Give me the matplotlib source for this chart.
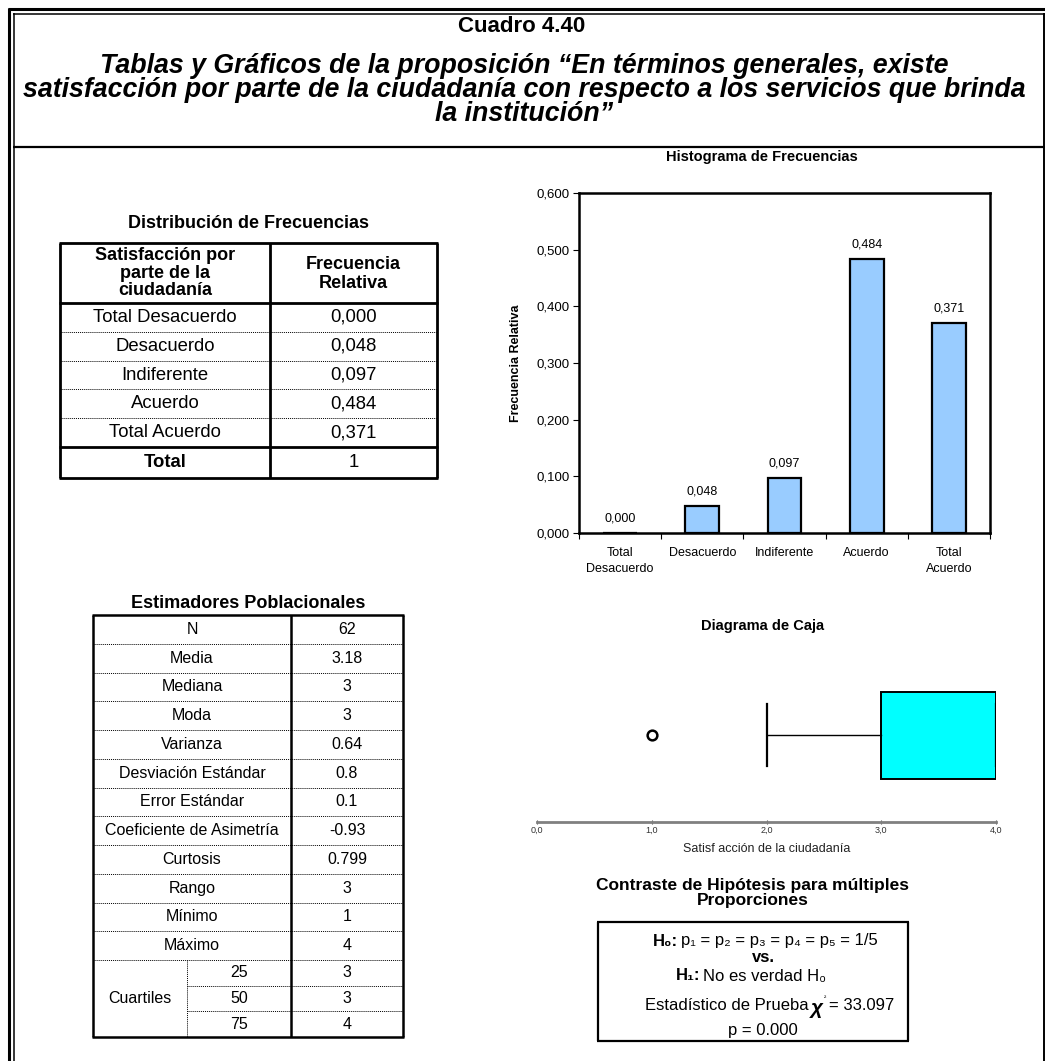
import matplotlib
matplotlib.use("Agg")
import matplotlib.pyplot as plt
from matplotlib.ticker import FuncFormatter, FixedLocator

plt.rcParams["font.family"] = ["Liberation Sans", "DejaVu Sans"]

# ---- data -------------------------------------------------------------
categories = ["Total Desacuerdo", "Desacuerdo", "Indiferente", "Acuerdo", "Total Acuerdo"]
bar_labels = ["Total\nDesacuerdo", "Desacuerdo", "Indiferente", "Acuerdo", "Total\nAcuerdo"]
rel_freq = [0.000, 0.048, 0.097, 0.484, 0.371]
freq_total = "1"

est_labels = ["N", "Media", "Mediana", "Moda", "Varianza", "Desviación Estándar",
              "Error Estándar", "Coeficiente de Asimetría", "Curtosis", "Rango",
              "Mínimo", "Máximo"]
est_values = ["62", "3.18", "3", "3", "0.64", "0.8", "0.1", "-0.93", "0.799", "3", "1", "4"]
quartile_pcts = ["25", "50", "75"]
quartile_vals = ["3", "3", "4"]

box_stats = dict(whislo=2, q1=3, med=3, q3=4, whishi=4, fliers=[1])
box_ticks = [0, 1, 2, 3, 4]

subtitle = ("Tablas y Gráficos de la proposición “En términos generales, existe\n"
            "satisfacción por parte de la ciudadanía con respecto a los servicios que brinda\n"
            "la institución”")
chi2_value = "33.097"
p_value = "0.000"

# ---- layout helpers (pixel space) ------------------------------------
W, H = 1045, 1061
fig = plt.figure(figsize=(W / 100, H / 100), dpi=100)
bg = fig.add_axes([0, 0, 1, 1])
bg.set_xlim(0, W)
bg.set_ylim(H, 0)
bg.axis("off")


def px_rect(x0, y0, x1, y1):
    return [x0 / W, 1 - y1 / H, (x1 - x0) / W, (y1 - y0) / H]


def hline(x0, x1, y, lw=1.0, ls="-"):
    bg.plot([x0, x1], [y, y], color="black", lw=lw, ls=ls, solid_capstyle="butt")


def vline(x, y0, y1, lw=1.0, ls="-"):
    bg.plot([x, x], [y0, y1], color="black", lw=lw, ls=ls, solid_capstyle="butt")


# outer frame (double line left/top)
hline(8, W, 9, lw=2.2)
hline(13, W, 13.5, lw=1.1)
vline(9, 8, H, lw=2.2)
vline(13.5, 13, H, lw=1.1)
vline(1043.5, 13, H, lw=1.4)
hline(13, W, 147, lw=1.6)

# header
bg.text(522, 26, "Cuadro 4.40", ha="center", va="center", fontsize=16, fontweight="bold")
bg.text(524, 90, subtitle, ha="center", va="center", fontsize=19.3, fontweight="bold",
        fontstyle="italic", linespacing=0.89)

# ---- frequency table ---------------------------------------------------
bg.text(248, 223, "Distribución de Frecuencias", ha="center", va="center",
        fontsize=13, fontweight="bold")
tx0, tx1, tcol = 60, 437, 270
ttop, thead, ttot, tbot = 243, 303, 447, 478
bg.text((tx0 + tcol) / 2, 273, "Satisfacción por\nparte de la\nciudadanía", ha="center",
        va="center", fontsize=13, fontweight="bold", linespacing=1.05)
bg.text((tcol + tx1) / 2, 274, "Frecuencia\nRelativa", ha="center", va="center",
        fontsize=13, fontweight="bold", linespacing=1.1)
row_h = (ttot - thead) / len(categories)
for i, (cat, val) in enumerate(zip(categories, rel_freq)):
    yc = thead + row_h * (i + 0.5)
    bg.text((tx0 + tcol) / 2, yc, cat, ha="center", va="center", fontsize=13.3)
    bg.text((tcol + tx1) / 2, yc, f"{val:.3f}".replace(".", ","), ha="center",
            va="center", fontsize=13.3)
    if i > 0:
        hline(tx0, tx1, thead + row_h * i, lw=0.7, ls=(0, (1, 1)))
bg.text((tx0 + tcol) / 2, (ttot + tbot) / 2, "Total", ha="center", va="center",
        fontsize=13.3, fontweight="bold")
bg.text((tcol + tx1) / 2, (ttot + tbot) / 2, freq_total, ha="center", va="center",
        fontsize=13.3)
for y in (ttop, thead, ttot, tbot):
    hline(tx0 - 1, tx1 + 1, y, lw=2.0)
for x in (tx0, tcol, tx1):
    vline(x, ttop, tbot, lw=2.0)

# ---- estimators table --------------------------------------------------
bg.text(248, 604, "Estimadores Poblacionales", ha="center", va="center",
        fontsize=13, fontweight="bold")
ex0, ex1, ecol, esub = 93, 403, 291, 187
etop, emid, ebot = 615, 960, 1037
e_row = (emid - etop) / len(est_labels)
for i, (lab, val) in enumerate(zip(est_labels, est_values)):
    yc = etop + e_row * (i + 0.5)
    bg.text((ex0 + ecol) / 2, yc, lab, ha="center", va="center", fontsize=11.5)
    bg.text((ecol + ex1) / 2, yc, val, ha="center", va="center", fontsize=11.5)
    hline(ex0, ex1, etop + e_row * (i + 1), lw=0.7, ls=(0, (1, 1)))
q_row = (ebot - emid) / len(quartile_pcts)
bg.text((ex0 + esub) / 2, (emid + ebot) / 2, "Cuartiles", ha="center", va="center",
        fontsize=11.5)
for i, (pct, val) in enumerate(zip(quartile_pcts, quartile_vals)):
    yc = emid + q_row * (i + 0.5)
    bg.text((esub + ecol) / 2, yc, pct, ha="center", va="center", fontsize=11.5)
    bg.text((ecol + ex1) / 2, yc, val, ha="center", va="center", fontsize=11.5)
    if i > 0:
        hline(esub, ex1, emid + q_row * i, lw=0.7, ls=(0, (1, 1)))
vline(esub, emid, ebot, lw=0.7, ls=(0, (1, 1)))
for y in (etop, ebot):
    hline(ex0 - 1, ex1 + 1, y, lw=1.8)
for x in (ex0, ecol, ex1):
    vline(x, etop, ebot, lw=1.8)

# ---- histogram ---------------------------------------------------------
bg.text(762, 157, "Histograma de Frecuencias", ha="center", va="center",
        fontsize=10.5, fontweight="bold")
ax = fig.add_axes(px_rect(579, 193, 990, 533))
ax.set_facecolor("none")
xs = list(range(len(rel_freq)))
ax.bar(xs, rel_freq, width=0.41, color="#99CCFF", edgecolor="black", linewidth=1.6)
for x, v in zip(xs, rel_freq):
    ax.annotate(f"{v:.3f}".replace(".", ","), (x, v), xytext=(0, 6),
                textcoords="offset points", ha="center", va="bottom", fontsize=9)
ax.set_xlim(-0.5, len(rel_freq) - 0.5)
ax.set_ylim(0, 0.6)
ax.set_yticks([0, 0.1, 0.2, 0.3, 0.4, 0.5, 0.6])
ax.yaxis.set_major_formatter(FuncFormatter(lambda v, _: f"{v:.3f}".replace(".", ",")))
ax.set_xticks(xs)
ax.set_xticklabels(bar_labels, fontsize=9, linespacing=1.45)
ax.tick_params(axis="x", length=0, pad=10)
ax.xaxis.set_minor_locator(FixedLocator([x - 0.5 for x in range(len(rel_freq) + 1)]))
ax.tick_params(axis="x", which="minor", length=4, width=0.8)
ax.tick_params(axis="y", labelsize=9.5, length=4, width=0.8, pad=3)
for s in ax.spines.values():
    s.set_linewidth(1.8)
ax.set_ylabel("Frecuencia Relativa", fontsize=9, fontweight="bold", labelpad=10)

# ---- box plot ----------------------------------------------------------
bg.text(763, 626, "Diagrama de Caja", ha="center", va="center",
        fontsize=10.5, fontweight="bold")
bx = fig.add_axes(px_rect(537, 640, 996, 822))
bx.set_facecolor("none")
bx.bxp([dict(box_stats, label="")], positions=[0.478], widths=0.478, capwidths=0.34,
       vert=False, patch_artist=True, showfliers=True,
       boxprops=dict(facecolor="#00FFFF", edgecolor="black", linewidth=1.4),
       medianprops=dict(color="black", linewidth=1.4),
       whiskerprops=dict(color="black", linewidth=1.0),
       capprops=dict(color="black", linewidth=1.6),
       flierprops=dict(marker="o", markerfacecolor="white", markeredgecolor="black",
                       markersize=7, markeredgewidth=1.8))
bx.set_xlim(0, 4)
bx.set_ylim(0, 1)
bx.set_yticks([])
bx.set_xticks(box_ticks)
bx.set_xticklabels([f"{t:.1f}".replace(".", ",") for t in box_ticks], fontsize=6.5,
                   color="#333333")
bx.tick_params(axis="x", direction="inout", length=3, width=0.8, pad=1, color="#555555")
for side in ("left", "right", "top"):
    bx.spines[side].set_visible(False)
bx.spines["bottom"].set_color("#808080")
bx.spines["bottom"].set_linewidth(2)
bx.set_xlabel("Satisf acción de la ciudadanía", fontsize=9, labelpad=6, color="#222222")

# ---- hypothesis test ---------------------------------------------------
bg.text(753, 893, "Contraste de Hipótesis para múltiples\nProporciones", ha="center",
        va="center", fontsize=12.5, fontweight="bold", linespacing=0.95)
hx0, hx1, hy0, hy1 = 598, 908, 922, 1041
hline(hx0 - 1, hx1 + 1, hy0, lw=1.6)
hline(hx0 - 1, hx1 + 1, hy1, lw=1.6)
vline(hx0, hy0, hy1, lw=1.6)
vline(hx1, hy0, hy1, lw=1.6)
fs = 12
bg.text(678, 941, "H₀:", ha="right", va="center", fontsize=fs, fontweight="bold")
bg.text(681, 941, "p₁ = p₂ = p₃ = p₄ = p₅ = 1/5", ha="left", va="center", fontsize=fs)
bg.text(763, 957, "vs.", ha="center", va="center", fontsize=fs, fontweight="bold")
bg.text(700, 976, "H₁:", ha="right", va="center", fontsize=fs, fontweight="bold")
bg.text(703, 976, "No es verdad H₀", ha="left", va="center", fontsize=fs)
bg.text(809, 1006, "Estadístico de Prueba", ha="right", va="center", fontsize=fs)
bg.text(811, 1008, "χ", ha="left", va="center", fontsize=fs + 3, fontweight="bold",
        fontstyle="italic")
bg.text(824, 999, "²", ha="left", va="center", fontsize=5)
bg.text(829, 1006, f"= {chi2_value}", ha="left", va="center", fontsize=fs)
bg.text(763, 1030, f"p = {p_value}", ha="center", va="center", fontsize=fs)

fig.savefig("out.png", dpi=100)
